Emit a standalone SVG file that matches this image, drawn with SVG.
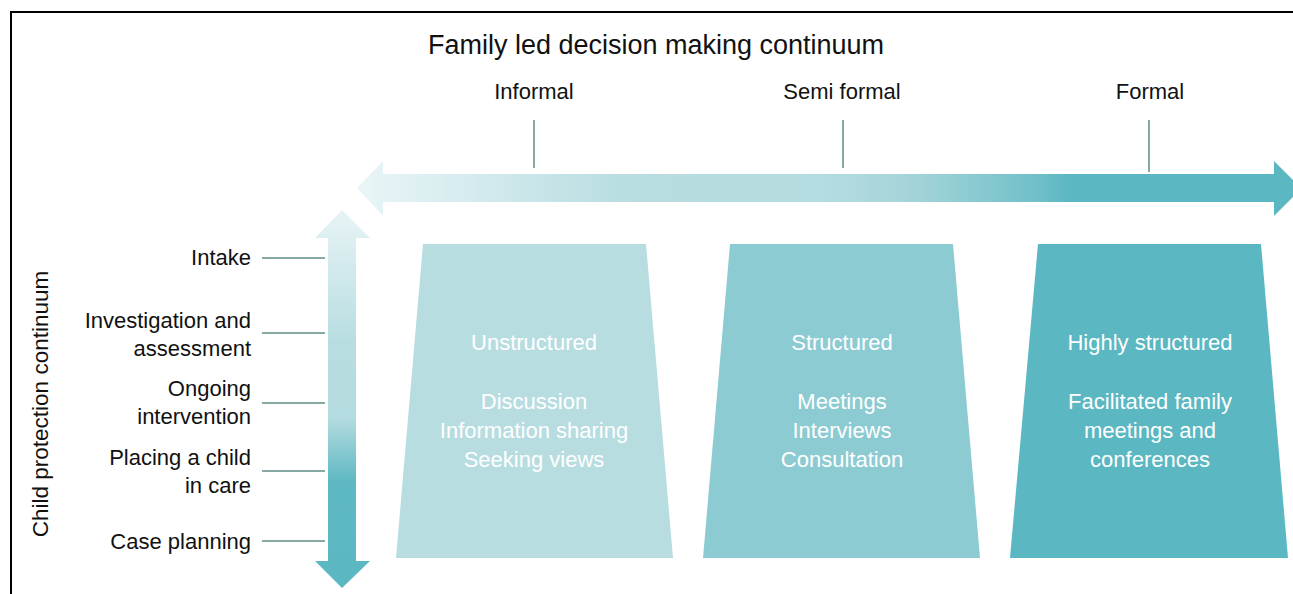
<svg xmlns="http://www.w3.org/2000/svg" width="1293" height="594" viewBox="0 0 1293 594">
  <style>
    text { font-family: "Liberation Sans", Arial, sans-serif; }
    .title { font-size: 27px; fill: #111; text-anchor: middle; }
    .stage { font-size: 22px; fill: #111; text-anchor: middle; }
    .step { font-size: 22px; fill: #111; text-anchor: end; }
    .box { font-size: 22px; fill: #ffffff; text-anchor: middle; }
    .tick { stroke: #5f8c88; stroke-width: 1.5; }
  </style>
  <defs>
    <linearGradient id="hGrad" gradientUnits="userSpaceOnUse" x1="358" y1="0" x2="1293" y2="0">
      <stop offset="0" stop-color="#eaf5f7"/>
      <stop offset="0.29" stop-color="#b7dde1"/>
      <stop offset="0.5" stop-color="#b5dce0"/>
      <stop offset="0.6" stop-color="#a2d3d9"/>
      <stop offset="0.73" stop-color="#6fbfc8"/>
      <stop offset="0.76" stop-color="#5bb7c1"/>
      <stop offset="1" stop-color="#5bb7c1"/>
    </linearGradient>
    <linearGradient id="vGrad" gradientUnits="userSpaceOnUse" x1="0" y1="210" x2="0" y2="588">
      <stop offset="0" stop-color="#e8f4f6"/>
      <stop offset="0.35" stop-color="#b7dde1"/>
      <stop offset="0.55" stop-color="#b5dce0"/>
      <stop offset="0.72" stop-color="#5db8c2"/>
      <stop offset="1" stop-color="#5bb7c1"/>
    </linearGradient>
  </defs>

  <rect width="1293" height="594" fill="#ffffff"/>

  <!-- frame -->
  <path d="M11 594 V12 H1293" fill="none" stroke="#000" stroke-width="2"/>

  <!-- title -->
  <text class="title" x="656" y="54">Family led decision making continuum</text>

  <!-- horizontal continuum arrow -->
  <g id="formality-arrow">
    <polygon points="357,188 383,161 383,174 1274,174 1274,161 1293,180 1293,197 1274,216 1274,202 383,202 383,216" fill="url(#hGrad)"/>
  </g>

  <!-- vertical continuum arrow -->
  <g id="protection-arrow">
    <polygon points="342,210 370,238 356,238 356,561 370,561 342,588 315,561 328,561 328,238 315,238" fill="url(#vGrad)"/>
  </g>

  <!-- stage labels -->
  <g id="stage-informal">
    <text class="stage" x="534" y="99">Informal</text>
  </g>
  <g id="stage-semi-formal">
    <text class="stage" x="842" y="99">Semi formal</text>
  </g>
  <g id="stage-formal">
    <text class="stage" x="1150" y="99">Formal</text>
  </g>

  <!-- axis label -->
  <g id="axis-label">
    <text x="0" y="0" font-size="22.5" fill="#111" text-anchor="middle" transform="translate(48 404) rotate(-90)">Child protection continuum</text>
  </g>

  <!-- process steps -->
  <g id="step-intake"><text class="step" x="251" y="265">Intake</text></g>
  <g id="step-investigation">
    <text class="step" x="251" y="328">Investigation and</text>
    <text class="step" x="251" y="356">assessment</text>
  </g>
  <g id="step-ongoing">
    <text class="step" x="251" y="396">Ongoing</text>
    <text class="step" x="251" y="424">intervention</text>
  </g>
  <g id="step-placing">
    <text class="step" x="251" y="465">Placing a child</text>
    <text class="step" x="251" y="493">in care</text>
  </g>
  <g id="step-case-planning"><text class="step" x="251" y="549">Case planning</text></g>

  <!-- tick connectors -->
  <g id="connectors">
    <line class="tick" x1="534" y1="120" x2="534" y2="168"/>
    <line class="tick" x1="843" y1="120" x2="843" y2="168"/>
    <line class="tick" x1="1149" y1="120" x2="1149" y2="172"/>
    <line class="tick" x1="262" y1="258" x2="325" y2="258"/>
    <line class="tick" x1="262" y1="333" x2="325" y2="333"/>
    <line class="tick" x1="262" y1="403" x2="325" y2="403"/>
    <line class="tick" x1="262" y1="471" x2="325" y2="471"/>
    <line class="tick" x1="262" y1="541" x2="325" y2="541"/>
  </g>

  <!-- approach columns -->
  <g id="unstructured">
    <polygon points="423,244 646,244 673,558 396,558" fill="#b7dde1"/>
    <text class="box" x="534" y="350">Unstructured</text>
    <text class="box" x="534" y="409">Discussion</text>
    <text class="box" x="534" y="438">Information sharing</text>
    <text class="box" x="534" y="467">Seeking views</text>
  </g>
  <g id="structured">
    <polygon points="730,244 953,244 980,558 703,558" fill="#8dcbd3"/>
    <text class="box" x="842" y="350">Structured</text>
    <text class="box" x="842" y="409">Meetings</text>
    <text class="box" x="842" y="438">Interviews</text>
    <text class="box" x="842" y="467">Consultation</text>
  </g>
  <g id="highly-structured">
    <polygon points="1038,244 1261,244 1288,558 1010,558" fill="#5bb7c1"/>
    <text class="box" x="1150" y="350">Highly structured</text>
    <text class="box" x="1150" y="409">Facilitated family</text>
    <text class="box" x="1150" y="438">meetings and</text>
    <text class="box" x="1150" y="467">conferences</text>
  </g>
</svg>
